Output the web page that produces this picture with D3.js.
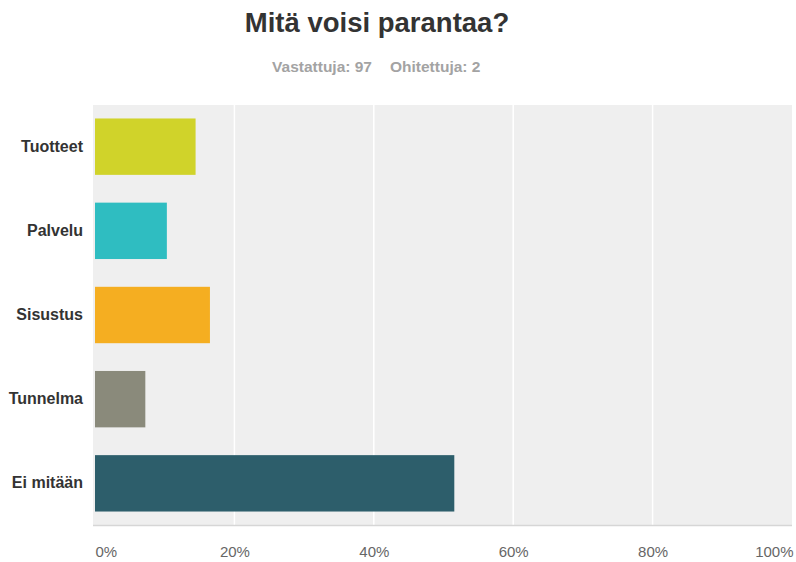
<!DOCTYPE html>
<html>
<head>
<meta charset="utf-8">
<script src="https://cdn.jsdelivr.net/npm/d3@7"></script>
<style>
  html, body { margin: 0; padding: 0; background: #ffffff; }
  svg { display: block; font-family: Arial, "Liberation Sans", sans-serif; }
</style>
</head>
<body>
<svg id="chart" width="796" height="562"></svg>
<script>
// Survey question: answer options, share of respondents (%), bar colours
const categories = ["Tuotteet", "Palvelu", "Sisustus", "Tunnelma", "Ei mitään"];
const percentages = [14.43, 10.31, 16.49, 7.22, 51.55];
const barColors = ["#d0d32a", "#2fbdc1", "#f5ae21", "#8a8a7b", "#2d5e6b"];
const tickValues = [0, 20, 40, 60, 80, 100];
const tickLabels = ["0%", "20%", "40%", "60%", "80%", "100%"];
const titleText = "Mitä voisi parantaa?";
const answered = 97;
const skipped = 2;

const svg = d3.select("#chart");
const margin = { left: 95, right: 4, top: 105, bottom: 37 };
const W = 796, H = 562;
const plotW = W - margin.left - margin.right;
const plotH = H - margin.top - margin.bottom;

const x = d3.scaleLinear().domain([0, 100]).range([margin.left, margin.left + plotW]);
const y = d3.scaleBand().domain(categories).range([margin.top, margin.top + plotH]).paddingInner(0.33).paddingOuter(0.16);

// Title and response counts
svg.append("text")
  .attr("x", 377).attr("y", 32)
  .attr("text-anchor", "middle")
  .attr("font-size", 27.5).attr("font-weight", "bold").attr("fill", "#333333")
  .text(titleText);

svg.append("text")
  .attr("x", 372).attr("y", 72)
  .attr("text-anchor", "end")
  .attr("font-size", 15.5).attr("font-weight", "bold").attr("fill", "#a3a3a3")
  .text(`Vastattuja: ${answered}`);

svg.append("text")
  .attr("x", 390).attr("y", 72)
  .attr("text-anchor", "start")
  .attr("font-size", 15.5).attr("font-weight", "bold").attr("fill", "#a3a3a3")
  .text(`Ohitettuja: ${skipped}`);

// Plot background
svg.append("rect")
  .attr("x", margin.left - 2).attr("y", margin.top)
  .attr("width", plotW + 2).attr("height", plotH)
  .attr("fill", "#efefef");

// Vertical grid lines
svg.append("g")
  .selectAll("line")
  .data(tickValues.slice(1, -1))
  .join("line")
  .attr("x1", d => x(d)).attr("x2", d => x(d))
  .attr("y1", margin.top).attr("y2", margin.top + plotH)
  .attr("stroke", "#ffffff").attr("stroke-width", 1.5);

// Baseline under the plot
svg.append("line")
  .attr("x1", margin.left - 2).attr("x2", margin.left + plotW)
  .attr("y1", margin.top + plotH + 0.5).attr("y2", margin.top + plotH + 0.5)
  .attr("stroke", "#d6d6d6").attr("stroke-width", 1.5);

// Bars
svg.append("g")
  .selectAll("rect")
  .data(categories)
  .join("rect")
  .attr("x", x(0))
  .attr("y", d => y(d))
  .attr("width", (d, i) => x(percentages[i]) - x(0))
  .attr("height", y.bandwidth())
  .attr("fill", (d, i) => barColors[i]);

// Category labels
const yAxis = d3.axisLeft(y).tickSize(0).tickPadding(12);
const gy = svg.append("g").attr("transform", `translate(${margin.left},0)`).call(yAxis);
gy.select(".domain").remove();
gy.selectAll("text")
  .attr("font-family", "Arial, 'Liberation Sans', sans-serif")
  .attr("font-size", 16).attr("font-weight", "bold").attr("fill", "#333333");

// Percentage axis labels
const xAxis = d3.axisBottom(x).tickValues(tickValues).tickFormat((d, i) => tickLabels[i]).tickSize(0).tickPadding(21);
const gx = svg.append("g").attr("transform", `translate(0,${margin.top + plotH})`).call(xAxis);
gx.select(".domain").remove();
gx.selectAll("text")
  .attr("font-family", "Arial, 'Liberation Sans', sans-serif")
  .attr("font-size", 15).attr("fill", "#666666")
  .attr("text-anchor", d => d === 0 ? "start" : (d === 100 ? "end" : "middle"))
  .attr("dx", d => d === 100 ? 1 : 0);
</script>
</body>
</html>
